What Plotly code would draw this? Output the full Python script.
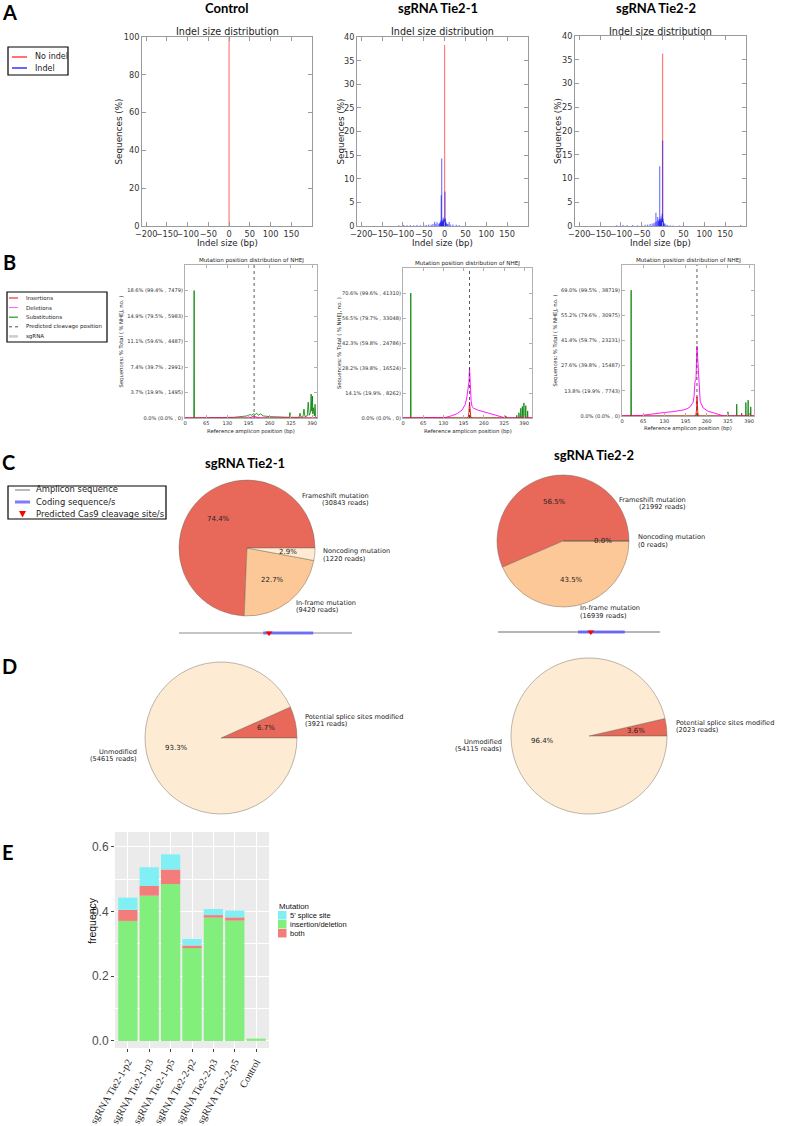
import math
import plotly.graph_objects as go

W, H = 787, 1126

# ---------------- Panel A: indel size distribution (% sequences) ----------------
a_titles = ["Control", "sgRNA Tie2-1", "sgRNA Tie2-2"]
a_noindel = [100.0, 38.3, 36.3]
a_ymax = [100, 40, 40]
a_ydtick = [20, 5, 5]
a_xticks = [-200, -150, -100, -50, 0, 50, 100, 150]

a1_size = []
a1_pct = []
a2_size = [-110, -98, -90, -82, -74, -66, -58, -50, -44, -38, -32, -28, -24, -21, -18, -14, -12, -11,
           -10, -9, -8, -7, -6, -5, -4, -3, -2, -1, 1, 2, 3, 4, 6, 8, 11, 14, 20, 28, 35]
a2_pct = [0.15, 0.2, 0.15, 0.2, 0.15, 0.2, 0.15, 0.25, 0.2, 0.3, 0.25, 0.4, 0.9, 0.5, 0.8, 0.5, 0.5, 0.7,
          0.8, 1.1, 6.5, 14.3, 1.4, 0.9, 1.0, 1.8, 1.2, 1.5, 7.3, 1.6, 0.9, 0.6, 0.5, 0.4, 0.85, 0.3, 0.3, 0.25, 0.2]
a3_size = [-110, -95, -85, -72, -60, -50, -42, -36, -30, -25, -21, -18, -16, -14, -12, -10, -9, -8,
           -7, -6, -5, -4, -3, -2, -1, 0, 1, 2, 3, 5, 8, 12, 18, 25, 40, 187]
a3_pct = [0.15, 0.2, 0.15, 0.2, 0.15, 0.2, 0.25, 0.3, 0.4, 0.5, 0.6, 0.8, 2.8, 1.0, 1.9, 1.2, 0.9, 1.5,
          12.6, 1.2, 1.4, 2.0, 1.1, 1.6, 2.6, 18.0, 1.5, 1.0, 0.6, 0.5, 0.3, 0.2, 0.15, 0.1, 0.1, 0.2]

# ---------------- Panel B: mutation position distribution of NHEJ ----------------
b_xticks = [0, 65, 130, 195, 260, 325, 390]
b_len = [405, 415, 405]
b_cut = [212, 214, 230]

b1_tickvals = [0, 3.72, 7.44, 11.16, 14.88, 18.6]
b1_ticktext = ["0.0% (0.0% , 0)", "3.7% (19.9% , 1495)", "7.4% (39.7% , 2991)",
               "11.1% (59.6% , 4487)", "14.9% (79.5% , 5983)", "18.6% (99.4% , 7479)"]
b2_tickvals = [0, 14.12, 28.24, 42.36, 56.48, 70.6]
b2_ticktext = ["0.0% (0.0% , 0)", "14.1% (19.9% , 8262)", "28.2% (39.8% , 16524)",
               "42.3% (59.8% , 24786)", "56.5% (79.7% , 33048)", "70.6% (99.6% , 41310)"]
b3_tickvals = [0, 13.8, 27.6, 41.4, 55.2, 69.0]
b3_ticktext = ["0.0% (0.0% , 0)", "13.8% (19.9% , 7743)", "27.6% (39.8% , 15487)",
               "41.4% (59.7% , 23231)", "55.2% (79.6% , 30975)", "69.0% (99.5% , 38719)"]

b1_sub_pos = [0, 27, 28, 29, 150, 170, 190, 200, 205, 210, 215, 220, 225, 232, 240, 260, 300, 320, 322, 324,
              350, 353, 356, 362, 365, 368, 375, 378, 381, 385, 387, 389, 391, 392, 394, 397, 399, 401, 405]
b1_sub_val = [0, 0, 18.6, 0, 0.1, 0.2, 0.3, 0.5, 0.4, 0.6, 0.5, 0.7, 0.4, 0.6, 0.3, 0.2, 0.1, 0.1, 0.8, 0.1,
              0.1, 0.7, 0.1, 0.2, 1.3, 0.2, 0.3, 2.3, 0.4, 0.8, 3.5, 1.0, 3.2, 0.6, 1.5, 0.3, 2.0, 0.2, 0]
b1_del_pos = [0, 195, 205, 212, 218, 230, 405]
b1_del_val = [0, 0, 0.15, 0.3, 0.15, 0, 0]
b1_ins_pos = [0, 405]
b1_ins_val = [0, 0]

b2_sub_pos = [0, 24, 25, 26, 100, 214, 215, 216, 300, 330, 331, 332, 365, 366, 367, 372, 373, 374, 378, 379,
              380, 383, 384, 385, 388, 389, 390, 394, 395, 396, 400, 401, 402, 415]
b2_sub_val = [0, 0, 70.6, 0, 0.1, 0, 1.5, 0, 0.1, 0, 1.2, 0, 0, 1.5, 0, 0, 3.0, 0, 0, 5.5,
              0, 0, 6.5, 0, 0, 8.5, 0, 0, 7.0, 0, 0, 4.0, 0, 0]
b2_del_pos = [0, 120, 137, 157, 175, 190, 200, 205, 209, 212, 214, 216, 219, 222, 228, 240, 260, 274, 290, 314, 330, 415]
b2_del_val = [0, 0, 0.3, 1.3, 2.5, 4.5, 7.5, 11.3, 16, 20, 28.5, 18, 10, 6.5, 5.5, 4.5, 3.5, 2.8, 1.8, 0.8, 0, 0]
b2_ins_pos = [0, 205, 210, 212, 214, 216, 218, 225, 415]
b2_ins_val = [0, 0, 0.5, 3, 9, 2, 0.5, 0, 0]

b3_sub_pos = [0, 27, 28, 29, 230, 231, 232, 324, 325, 326, 351, 352, 353, 366, 367, 368, 379, 380, 381,
              386, 387, 388, 394, 395, 396, 405]
b3_sub_val = [0, 0, 69.0, 0, 0, 1.5, 0, 0, 2.3, 0, 0, 6.5, 0, 0, 1.6, 0, 0, 7.4, 0,
              0, 8.7, 0, 0, 5.0, 0, 0]
b3_del_pos = [0, 45, 60, 80, 106, 130, 157, 175, 188, 200, 209, 218, 221, 224, 227, 230, 233, 236, 240, 249,
              265, 280, 300, 312, 405]
b3_del_val = [0, 0, 0.3, 0.8, 1.5, 1.9, 2.4, 2.8, 3.3, 4.0, 5.0, 7.5, 10.5, 19, 20, 38.3, 27.8, 15, 8, 4.4,
              2.5, 1.8, 0.8, 0, 0]
b3_ins_pos = [0, 224, 227, 229, 230, 231, 233, 236, 405]
b3_ins_val = [0, 0, 1, 4, 10.5, 4, 1, 0, 0]

# ---------------- Panel C: frameshift analysis ----------------
c_titles = ["sgRNA Tie2-1", "sgRNA Tie2-2"]
c_names = ["Frameshift mutation", "In-frame mutation", "Noncoding mutation"]
c1_reads = [30843, 9420, 1220]
c2_reads = [21992, 16939, 0]
c_colors = ["#E8695A", "#FDC897", "#FEEBD2"]
# amplicon diagrams: length, coding start/end, cut site
amp_len = [415, 405]
amp_cds = [(202, 322), (200, 317)]
amp_cut = [216, 232]

# ---------------- Panel D: splice sites ----------------
d_names = ["Potential splice sites modified", "Unmodified"]
d1_reads = [3921, 54615]
d2_reads = [2023, 54115]
d_colors = ["#E8695A", "#FDEBD3"]

# ---------------- Panel E: stacked frequencies ----------------
e_cats = ["sgRNA Tie2-1-p2", "sgRNA Tie2-1-p3", "sgRNA Tie2-1-p5", "sgRNA Tie2-2-p2",
          "sgRNA Tie2-2-p3", "sgRNA Tie2-2-p5", "Control"]
e_indel = [0.371, 0.449, 0.485, 0.287, 0.381, 0.372, 0.007]
e_both = [0.034, 0.030, 0.045, 0.008, 0.008, 0.010, 0.0]
e_splice = [0.038, 0.058, 0.047, 0.020, 0.019, 0.021, 0.0]
e_legend = ["5' splice site", "insertion/deletion", "both"]
e_colors = ["#80F0F5", "#82EF7C", "#F37D7A"]

MPL = "DejaVu Sans"
BOLD = "Lato"
GG = "Liberation Sans"


def fx(p):
    return p / W


def fy(p):
    return 1 - p / H


def ref(n, k):
    return k if n == 1 else f"{k}{n}"


def axkey(n, k):
    return f"{k}axis" if n == 1 else f"{k}axis{n}"


ann = []
shp = []
layout_axes = {}
traces = []


def text(px, py, s, size, color="#222", family=MPL, xa="center", ya="middle", angle=0, bold=False):
    ann.append(dict(x=fx(px), y=fy(py), xref="paper", yref="paper", text=s, showarrow=False,
                    xanchor=xa, yanchor=ya, textangle=angle,
                    font=dict(size=size, color=color, family=family, weight="bold" if bold else "normal")))


def box(l, t, r, b, color="black", width=1.0, fill="white"):
    shp.append(dict(type="rect", xref="paper", yref="paper", x0=fx(l), x1=fx(r), y0=fy(b), y1=fy(t),
                    line=dict(color=color, width=width), fillcolor=fill, layer="above"))


def hline(l, r, y, color, width, dash="solid"):
    shp.append(dict(type="line", xref="paper", yref="paper", x0=fx(l), x1=fx(r), y0=fy(y), y1=fy(y),
                    line=dict(color=color, width=width, dash=dash), layer="above"))


# panel letters
for letter, (px, py) in zip("ABCDE", [(9, 12), (9, 262), (8, 462), (9, 666), (8, 852)]):
    text(px, py, letter, 20, "black", BOLD, bold=True)

# ---------------- Panel A ----------------
a_box = [(142, 312, 37, 226), (357, 528, 37, 226), (575, 746, 36, 226)]
a_title_x = [226, 438, 656]
a_ytitle_x = [118, 340, 558]
a_sizes = [a1_size, a2_size, a3_size]
a_pcts = [a1_pct, a2_pct, a3_pct]
for i in range(3):
    n = i + 1
    l, r, t, b = a_box[i]
    frame = dict(showline=True, linecolor="#9a9a9a", linewidth=1, mirror="allticks", ticks="inside",
                 ticklen=4, tickcolor="#9a9a9a", showgrid=False, zeroline=False, tickangle=0,
                 tickfont=dict(size=8.2, color="#333", family=MPL))
    layout_axes[axkey(n, "x")] = dict(frame, domain=[fx(l), fx(r)], range=[-210, 200], tickvals=a_xticks,
                                      anchor=ref(n, "y"))
    layout_axes[axkey(n, "y")] = dict(frame, domain=[fy(b), fy(t)], range=[0, a_ymax[i]], dtick=a_ydtick[i],
                                      anchor=ref(n, "x"))
    traces.append(go.Bar(x=[0], y=[a_noindel[i]], width=3, marker=dict(color="rgba(255,0,0,0.5)", line_width=0),
                         xaxis=ref(n, "x"), yaxis=ref(n, "y")))
    if a_sizes[i]:
        traces.append(go.Bar(x=a_sizes[i], y=a_pcts[i], width=3,
                             marker=dict(color="rgba(0,0,255,0.5)", line_width=0),
                             xaxis=ref(n, "x"), yaxis=ref(n, "y")))
    text(a_title_x[i], 8, a_titles[i], 13, "black", BOLD, bold=True)
    text((l + r) / 2, 31, "Indel size distribution", 9.6, "#222")
    text(a_ytitle_x[i], (t + b) / 2, "Sequences (%)", 8.8, "#222", angle=-90)
    text((l + r) / 2, 243, "Indel size (bp)", 8.6, "#222")

# legend A
box(8, 47, 68, 75, width=1.2)
hline(12, 27, 57, "rgba(255,0,0,0.55)", 2)
hline(12, 27, 68, "blue", 1.2)
text(33, 57, "No indel", 8, xa="left")
text(33, 68, "Indel", 8, xa="left")

# ---------------- Panel B ----------------
b_box = [(185, 317, 265, 418), (403, 532, 268, 418), (622, 754, 265, 416)]
b_ytitle_x = [121, 339, 555]
b_tv = [b1_tickvals, b2_tickvals, b3_tickvals]
b_tt = [b1_ticktext, b2_ticktext, b3_ticktext]
b_series = [
    (b1_sub_pos, b1_sub_val, b1_del_pos, b1_del_val, b1_ins_pos, b1_ins_val),
    (b2_sub_pos, b2_sub_val, b2_del_pos, b2_del_val, b2_ins_pos, b2_ins_val),
    (b3_sub_pos, b3_sub_val, b3_del_pos, b3_del_val, b3_ins_pos, b3_ins_val),
]
for i in range(3):
    n = i + 4
    l, r, t, b = b_box[i]
    frame = dict(showline=True, linecolor="#b0b0b0", linewidth=1, mirror="allticks", ticks="inside",
                 ticklen=3, tickcolor="#b0b0b0", showgrid=False, zeroline=False, tickangle=0,
                 tickfont=dict(size=5.1, color="#333", family=MPL))
    layout_axes[axkey(n, "x")] = dict(frame, domain=[fx(l), fx(r)], range=[0, b_len[i]], tickvals=b_xticks,
                                      anchor=ref(n, "y"))
    layout_axes[axkey(n, "y")] = dict(frame, domain=[fy(b), fy(t)], range=[0, b_tv[i][-1] * 1.2],
                                      tickvals=b_tv[i], ticktext=b_tt[i], anchor=ref(n, "x"))
    sp, sv, dp, dv, ip, iv = b_series[i]
    traces.append(go.Scatter(x=sp, y=sv, mode="lines", line=dict(color="rgba(0,128,0,0.8)", width=1),
                             xaxis=ref(n, "x"), yaxis=ref(n, "y")))
    traces.append(go.Scatter(x=dp, y=dv, mode="lines", line=dict(color="rgba(255,0,255,0.9)", width=1),
                             xaxis=ref(n, "x"), yaxis=ref(n, "y")))
    traces.append(go.Scatter(x=ip, y=iv, mode="lines", line=dict(color="rgba(255,0,0,0.9)", width=1),
                             xaxis=ref(n, "x"), yaxis=ref(n, "y")))
    shp.append(dict(type="line", xref=ref(n, "x"), yref=ref(n, "y") + " domain", x0=b_cut[i], x1=b_cut[i],
                    y0=0, y1=1, line=dict(color="#333", width=0.8, dash="dot")))
    text((l + r) / 2, t - 5, "Mutation position distribution of NHEJ", 5.6, "#222")
    text(b_ytitle_x[i], (t + b) / 2, "Sequences: % Total ( % NHEJ, no. )", 5.3, "#222", angle=-90)
    text((l + r) / 2, b + 13, "Reference amplicon position (bp)", 5.3, "#222")

# legend B
box(7, 292, 107, 342, width=1.2)
b_leg = [("Insertions", "red", 1, "solid"), ("Deletions", "#ff55ff", 1, "solid"),
         ("Substitutions", "#1f9a1f", 1.2, "solid"), ("Predicted cleavage position", "#222", 0.8, "dot"),
         ("sgRNA", "#cccccc", 2.5, "solid")]
for k, (lab, col, wd, ds) in enumerate(b_leg):
    yy = 298 + k * 9.6
    hline(9, 18, yy, col, wd, ds)
    text(24, yy, lab, 5.5, xa="left")

# ---------------- Panels C and D: pies ----------------
pie_specs = [
    (c1_reads, c_names, c_colors, 247, 548, 68, {0: (371, 499.5)}),
    (c2_reads, c_names, c_colors, 563, 541, 66, {0: (688, 503.5)}),
    (d1_reads, d_names, d_colors, 221, 738, 76, {}),
    (d2_reads, d_names, d_colors, 589, 736, 78, {}),
]
for reads, names, cols, cx, cy, rad, override in pie_specs:
    total = sum(reads)
    # plotly's counterclockwise pies end the first slice at `rotation`; shift so it starts at 3 o'clock
    rot = 90 - 360 * reads[0] / total
    traces.append(go.Pie(values=reads, labels=names, sort=False, direction="counterclockwise", rotation=rot,
                         textinfo="none", hoverinfo="skip", showlegend=False,
                         marker=dict(colors=cols, line=dict(color="rgba(110,100,90,0.75)", width=0.6)),
                         domain=dict(x=[fx(cx - rad), fx(cx + rad)], y=[fy(cy + rad), fy(cy - rad)])))
    cum = 0
    for k, v in enumerate(reads):
        mid = math.radians((cum + v / 2) / total * 360)
        cum += v
        px, py = cx + 0.6 * rad * math.cos(mid), cy - 0.6 * rad * math.sin(mid)
        text(px, py, f"{100 * v / total:.1f}%", 7, "#222")
        if k in override:
            lx, ly = override[k]
            xa = "right"
        else:
            lx, ly = cx + 1.1 * rad * math.cos(mid), cy - 1.1 * rad * math.sin(mid)
            xa = "left" if math.cos(mid) >= 0 else "right"
        text(lx, ly - 3.8, names[k], 6.6, "#222", xa=xa)
        text(lx, ly + 3.8, f"({v} reads)", 6.6, "#222", xa=xa)

text(245, 463, c_titles[0], 13, "black", BOLD, bold=True)
text(594, 455, c_titles[1], 13, "black", BOLD, bold=True)

# amplicon diagrams under the pies
amp_box = [(179, 352, 625, 641), (498, 660, 624, 640)]
for j in range(2):
    n = 7 + j
    l, r, t, b = amp_box[j]
    layout_axes[axkey(n, "x")] = dict(domain=[fx(l), fx(r)], range=[0, amp_len[j]], visible=False,
                                      anchor=ref(n, "y"))
    layout_axes[axkey(n, "y")] = dict(domain=[fy(b), fy(t)], range=[-1, 1], visible=False, anchor=ref(n, "x"))
    traces.append(go.Scatter(x=[0, amp_len[j]], y=[0, 0], mode="lines",
                             line=dict(color="#8c8c8c" if j == 0 else "#b5b5b5", width=1.2 if j == 0 else 1.8),
                             xaxis=ref(n, "x"), yaxis=ref(n, "y")))
    traces.append(go.Scatter(x=list(amp_cds[j]), y=[0, 0], mode="lines",
                             line=dict(color="rgba(80,80,255,0.75)", width=3),
                             xaxis=ref(n, "x"), yaxis=ref(n, "y")))
    traces.append(go.Scatter(x=[amp_cut[j]], y=[0], mode="markers",
                             marker=dict(symbol="triangle-down", color="red", size=6, line_width=0),
                             xaxis=ref(n, "x"), yaxis=ref(n, "y")))

# legend C
box(8, 486, 166, 519, width=1.2)
hline(15, 30, 490, "#8c8c8c", 1.2)
hline(15, 30, 502, "rgba(80,80,255,0.75)", 3)
shp.append(dict(type="path", xref="paper", yref="paper", layer="above",
                path=f"M {fx(19)},{fy(511)} L {fx(26)},{fy(511)} L {fx(22.5)},{fy(517.5)} Z",
                fillcolor="red", line=dict(width=0)))
text(34, 489, "Amplicon sequence", 8.4, xa="left")
text(34, 502, "Coding sequence/s", 8.4, xa="left")
text(34, 514, "Predicted Cas9 cleavage site/s", 8.4, xa="left")

# ---------------- Panel E ----------------
n = 9
l, r, t, b = 115, 269, 832, 1048
layout_axes[axkey(n, "x")] = dict(domain=[fx(l), fx(r)], type="category", range=[-0.6, 6.6], anchor=ref(n, "y"),
                                  showline=False, zeroline=False, showgrid=True, gridcolor="white", gridwidth=1.1,
                                  ticks="outside", ticklen=3, tickcolor="#444", tickangle=-60,
                                  tickfont=dict(family="Liberation Serif", size=10.2, color="#222"))
layout_axes[axkey(n, "y")] = dict(domain=[fy(b), fy(t)], range=[-0.022, 0.646], anchor=ref(n, "x"),
                                  tickvals=[0, 0.2, 0.4, 0.6], tickformat=".1f", showline=False, zeroline=False,
                                  showgrid=True, gridcolor="white", gridwidth=1.1,
                                  minor=dict(dtick=0.1, showgrid=True, gridcolor="white", gridwidth=0.5),
                                  ticks="outside", ticklen=3, tickcolor="#444",
                                  tickfont=dict(family=GG, size=12, color="#4d4d4d"))
shp.append(dict(type="rect", xref="x9 domain", yref="y9 domain", x0=0, x1=1, y0=0, y1=1,
                fillcolor="#EBEBEB", line=dict(width=0), layer="below"))
base_both = e_indel
base_splice = [g + s for g, s in zip(e_indel, e_both)]
traces.append(go.Bar(x=e_cats, y=e_indel, width=0.9, marker=dict(color=e_colors[1], line_width=0),
                     xaxis="x9", yaxis="y9"))
traces.append(go.Bar(x=e_cats, y=e_both, base=base_both, width=0.9, marker=dict(color=e_colors[2], line_width=0),
                     xaxis="x9", yaxis="y9"))
traces.append(go.Bar(x=e_cats, y=e_splice, base=base_splice, width=0.9,
                     marker=dict(color=e_colors[0], line_width=0), xaxis="x9", yaxis="y9"))
text(92, 921, "frequency", 10.5, "#111", GG, angle=-90)

# legend E
text(277, 906, "Mutation", 7.8, "#111", GG, xa="left")
for k, (lab, col) in enumerate(zip(e_legend, e_colors)):
    y0 = 911 + k * 9
    shp.append(dict(type="rect", xref="paper", yref="paper", x0=fx(278), x1=fx(286.5), y0=fy(y0 + 8.5),
                    y1=fy(y0), fillcolor=col, line=dict(width=0)))
    text(288, y0 + 4.3, lab, 7.5, "#111", GG, xa="left")

fig = go.Figure(data=traces)
fig.update_layout(
    width=W, height=H, margin=dict(l=0, r=0, t=0, b=0),
    template="none", paper_bgcolor="white", plot_bgcolor="white",
    barmode="overlay", showlegend=False,
    font=dict(family=MPL, color="#222"),
    annotations=ann, shapes=shp,
    **layout_axes,
)
# the page body has a default 8px margin; drop it so the figure sits at the window origin
fig.write_html("out.html", config={"displayModeBar": False},
               post_script="document.body.style.margin='0';")
